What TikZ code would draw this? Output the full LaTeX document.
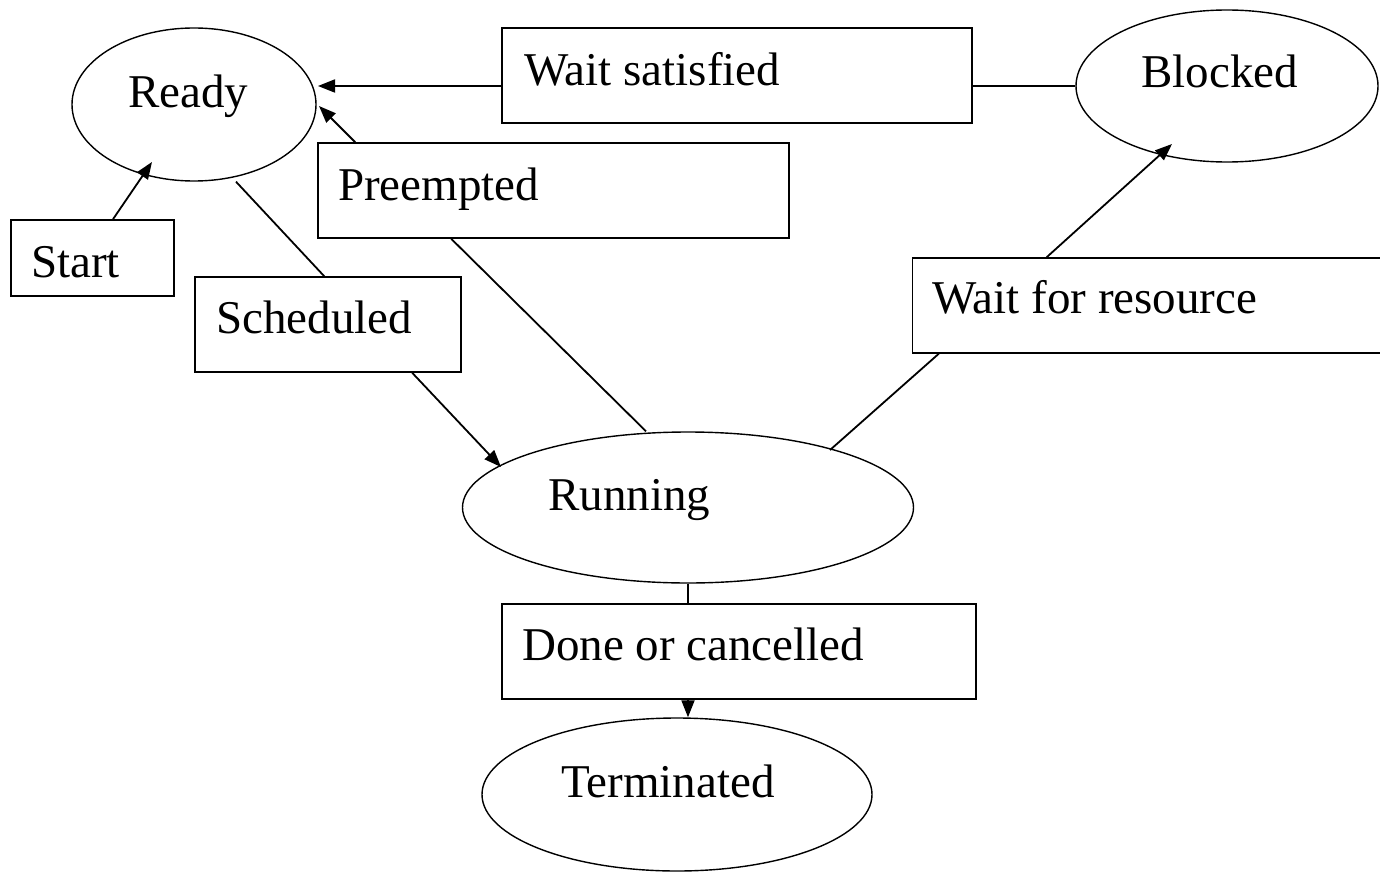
\documentclass[tikz,border=0pt]{standalone}
\usepackage{fontspec}
\setmainfont{Liberation Serif}
\usetikzlibrary{shapes.geometric,arrows.meta,calc}
\tikzset{
  state/.style={draw, ellipse, line width=1.4pt, inner sep=0pt},
  lbox/.style={draw, rectangle, line width=1.6pt, inner sep=0pt},
  txt/.style={anchor=base west, inner sep=0pt, font=\fontsize{47pt}{56pt}\selectfont},
  conn/.style={line width=1.8pt},
  arr/.style={line width=1.8pt, -{Triangle[length=17pt,width=13pt]}}
}
\begin{document}
\begin{tikzpicture}[x=1pt,y=-1pt]
\clip (0,0) rectangle (1380,872);
\fill[white] (0,0) rectangle (1380,872);
% states
\node[state, minimum width=244pt, minimum height=153pt] (ready) at (194,104.5) {};
\node[state, minimum width=302pt, minimum height=152pt] (blocked) at (1227,86) {};
\node[state, minimum width=451pt, minimum height=151pt] (run) at (688,507.5) {};
\node[state, minimum width=390pt, minimum height=153pt] (term) at (677,794.5) {};
\node[txt] (readyt) at (128,107) {Ready};
\node[txt] (blockedt) at (1141,88) {Blocked};
\node[txt] (runt) at (548,510) {Running};
\node[txt] (termt) at (561,797) {Terminated};
% label boxes
\node[lbox, minimum width=163pt, minimum height=76pt] (start) at (92.5,258) {};
\node[lbox, minimum width=470pt, minimum height=95pt] (ws) at (737,75.5) {};
\node[lbox, minimum width=471pt, minimum height=95pt] (pre) at (553.5,190.5) {};
\node[lbox, minimum width=266pt, minimum height=95pt] (sched) at (328,324.5) {};
\node[lbox, minimum width=500pt, minimum height=95pt] (wfr) at (1162.5,305.5) {};
\node[lbox, minimum width=474pt, minimum height=95pt] (done) at (739,651.5) {};
\node[txt] (startt) at (31,277) {Start};
\node[txt] (wst) at (524,86) {Wait satisfied};
\node[txt] (pret) at (338,200) {Preempted};
\node[txt] (schedt) at (216,333) {Scheduled};
\node[txt] (wfrt) at (932,313) {Wait for resource};
\node[txt] (donet) at (522,660) {Done or cancelled};
% connectors
\draw[arr] ($(start.north)+(20.5,0)$) -- ($(ready.center)+(-42,57.5)$);
\draw[conn] (blocked.west) -- ($(ws.east)+(0,10.5)$);
\draw[arr] ($(ws.west)+(0,10.5)$) -- ($(ready.center)+(124,-18.5)$);
\draw[conn] ($(run.north)+(-42,0)$) -- ($(pre.south west)+(134,0)$);
\draw[arr] ($(pre.north west)+(38,0)$) -- ($(ready.center)+(125,1.5)$);
\draw[conn] ($(ready.south)+(42,0)$) -- ($(sched.north west)+(130,0)$);
\draw[arr] ($(sched.south west)+(218,0)$) -- ($(run.center)+(-187,-40.5)$);
\draw[conn] ($(run.center)+(142,-57.5)$) -- ($(wfr.south west)+(27,0)$);
\draw[arr] ($(wfr.north west)+(135,0)$) -- ($(blocked.center)+(-55,58)$);
\draw[conn] (run.south) -- (run.south |- done.north);
\draw[arr] (run.south |- done.south) -- (run.south |- term.north);
\end{tikzpicture}
\end{document}
